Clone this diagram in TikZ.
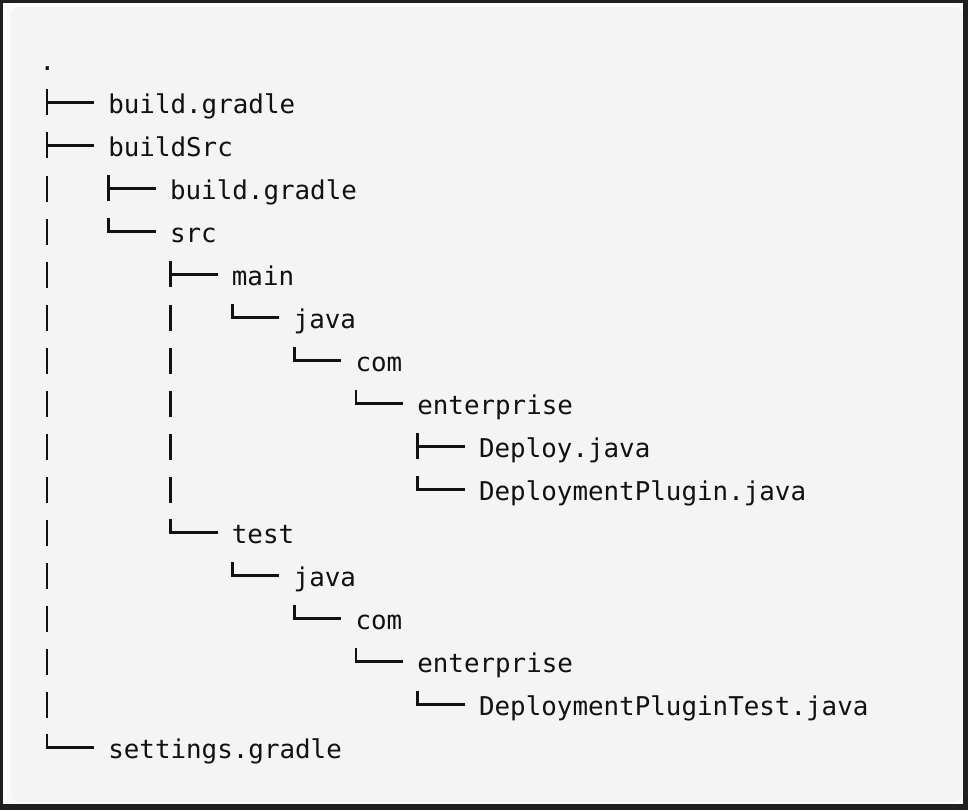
\documentclass[tikz,border=0pt]{standalone}
\usepackage{fontspec}
\setmonofont{DejaVu Sans Mono}
\definecolor{frame}{HTML}{1F1F1F}
\definecolor{outer}{HTML}{FBFBFB}
\definecolor{panel}{HTML}{F4F4F4}
\definecolor{ink}{HTML}{111111}
\tikzset{
  fname/.style={anchor=base west, inner sep=0pt, outer sep=0pt, text=ink,
    font=\ttfamily\fontsize{19.4}{23}\selectfont},
  treeline/.style={draw=ink, line width=2.1pt, line cap=butt, line join=miter},
  teeg/.pic={\draw[treeline] (0,-24)--(0,2); \draw[treeline] (0,-10.5)--(47,-10.5);},
  elbowg/.pic={\draw[treeline] (0,-24)--(0,-10.5)--(47,-10.5);},
  pipeg/.pic={\draw[treeline] (0,-23)--(0,3);}
}
\newcommand\entry[4]{\node[fname] (#1) at ({47+#3*15.45-0.5},{70+43*#2}) {#4};}
\newcommand\glyph[3]{\pic at ({47+#3*15.45},{70+43*#2}) {#1};}
\begin{document}
\begin{tikzpicture}[x=0.75pt,y=-0.75pt]
\useasboundingbox (0,0) rectangle (968,810);
\fill[frame] (0,0) rectangle (968,810);
\fill[outer] (3,3) rectangle (963,804);
\fill[panel, rounded corners=6pt] (11,7) rectangle (962,802);
% root
\node[fname] (root) at (39.5,70) {.};
% row 1
\glyph{teeg}{1}{0}
\entry{bg}{1}{4}{build.gradle}
% row 2
\glyph{teeg}{2}{0}
\entry{bsrc}{2}{4}{buildSrc}
% row 3
\glyph{pipeg}{3}{0}\glyph{teeg}{3}{4}
\entry{bsbg}{3}{8}{build.gradle}
% row 4
\glyph{pipeg}{4}{0}\glyph{elbowg}{4}{4}
\entry{src}{4}{8}{src}
% row 5
\glyph{pipeg}{5}{0}\glyph{teeg}{5}{8}
\entry{main}{5}{12}{main}
% row 6
\glyph{pipeg}{6}{0}\glyph{pipeg}{6}{8}\glyph{elbowg}{6}{12}
\entry{mjava}{6}{16}{java}
% row 7
\glyph{pipeg}{7}{0}\glyph{pipeg}{7}{8}\glyph{elbowg}{7}{16}
\entry{mcom}{7}{20}{com}
% row 8
\glyph{pipeg}{8}{0}\glyph{pipeg}{8}{8}\glyph{elbowg}{8}{20}
\entry{ment}{8}{24}{enterprise}
% row 9
\glyph{pipeg}{9}{0}\glyph{pipeg}{9}{8}\glyph{teeg}{9}{24}
\entry{deploy}{9}{28}{Deploy.java}
% row 10
\glyph{pipeg}{10}{0}\glyph{pipeg}{10}{8}\glyph{elbowg}{10}{24}
\entry{dplugin}{10}{28}{DeploymentPlugin.java}
% row 11
\glyph{pipeg}{11}{0}\glyph{elbowg}{11}{8}
\entry{test}{11}{12}{test}
% row 12
\glyph{pipeg}{12}{0}\glyph{elbowg}{12}{12}
\entry{tjava}{12}{16}{java}
% row 13
\glyph{pipeg}{13}{0}\glyph{elbowg}{13}{16}
\entry{tcom}{13}{20}{com}
% row 14
\glyph{pipeg}{14}{0}\glyph{elbowg}{14}{20}
\entry{tent}{14}{24}{enterprise}
% row 15
\glyph{pipeg}{15}{0}\glyph{elbowg}{15}{24}
\entry{dptest}{15}{28}{DeploymentPluginTest.java}
% row 16
\glyph{elbowg}{16}{0}
\entry{settings}{16}{4}{settings.gradle}
\end{tikzpicture}
\end{document}
